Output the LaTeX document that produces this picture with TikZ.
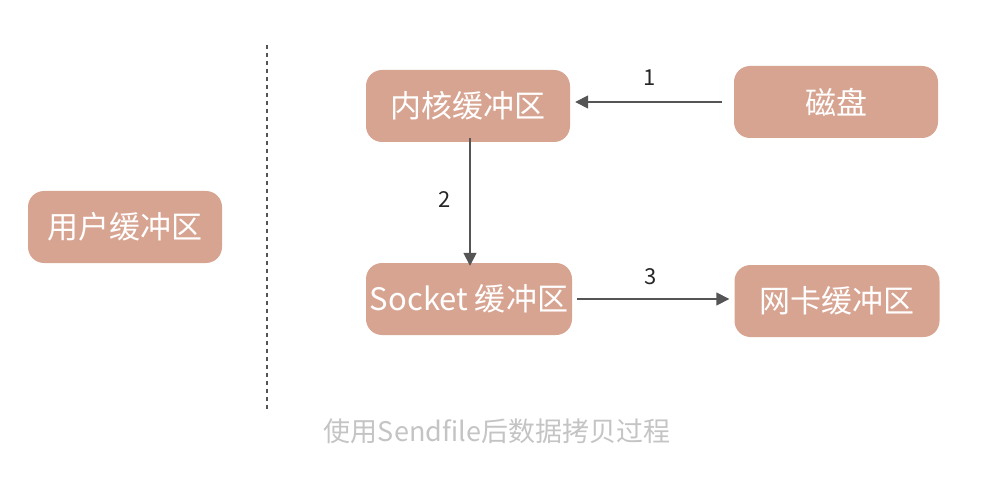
\documentclass[tikz,border=0pt]{standalone}
\usepackage{fontspec}
\setmainfont{Noto Sans CJK SC}
\usetikzlibrary{arrows.meta}
\definecolor{boxfill}{HTML}{D8A492}
\definecolor{linegray}{HTML}{555555}
\definecolor{captiongray}{HTML}{C4C4C4}
\begin{document}
\begin{tikzpicture}[x=1pt,y=-1pt,
    buffer/.style={fill=boxfill,rounded corners=16pt,minimum height=72pt,text=white,font=\fontsize{31}{34}\selectfont},
    flow/.style={draw=linegray,line width=1.6pt,-{Triangle[length=13pt,width=13pt]}},
    steplabel/.style={font=\fontsize{22}{24}\selectfont,text=black!85}]
    \useasboundingbox (0,0) rectangle (995,494);
    \node[buffer,minimum width=194pt] (user) at (125,227) {用户缓冲区};
    \node[buffer,minimum width=204pt] (kernel) at (468,106) {内核缓冲区};
    \node[buffer,minimum width=204pt] (disk) at (836,102) {磁盘};
    \node[buffer,minimum width=206pt] (socket) at (469,299) {Socket 缓冲区};
    \node[buffer,minimum width=205pt] (nic) at (837,301) {网卡缓冲区};
    \coordinate (top) at (267,45);
    \coordinate (bottom) at (267,410);
    \draw[linegray,line width=2.5pt,dash pattern=on 4pt off 4pt] (top) -- (bottom);
    % arrow ends, a little off the boxes
    \coordinate (diskout) at ([xshift=-12pt]disk.west);
    \coordinate (kernelin) at ([xshift=5pt]kernel.east |- diskout);
    \coordinate (kernelout) at ([xshift=2pt,yshift=4pt]kernel.south);
    \coordinate (socketin) at ([yshift=-3pt]kernelout |- socket.north);
    \coordinate (socketout) at ([xshift=5pt]socket.east);
    \coordinate (nicin) at ([xshift=-5pt]nic.west |- socketout);
    \draw[flow] (diskout) -- (kernelin);
    \draw[flow] (kernelout) -- (socketin);
    \draw[flow] (socketout) -- (nicin);
    \node[steplabel] (one) at (650,78) {1};
    \node[steplabel] (two) at (445,200) {2};
    \node[steplabel] (three) at (651,277) {3};
    \node[text=captiongray,font=\fontsize{27}{30}\selectfont] (caption) at (497,431) {使用Sendfile后数据拷贝过程};
\end{tikzpicture}
\end{document}
